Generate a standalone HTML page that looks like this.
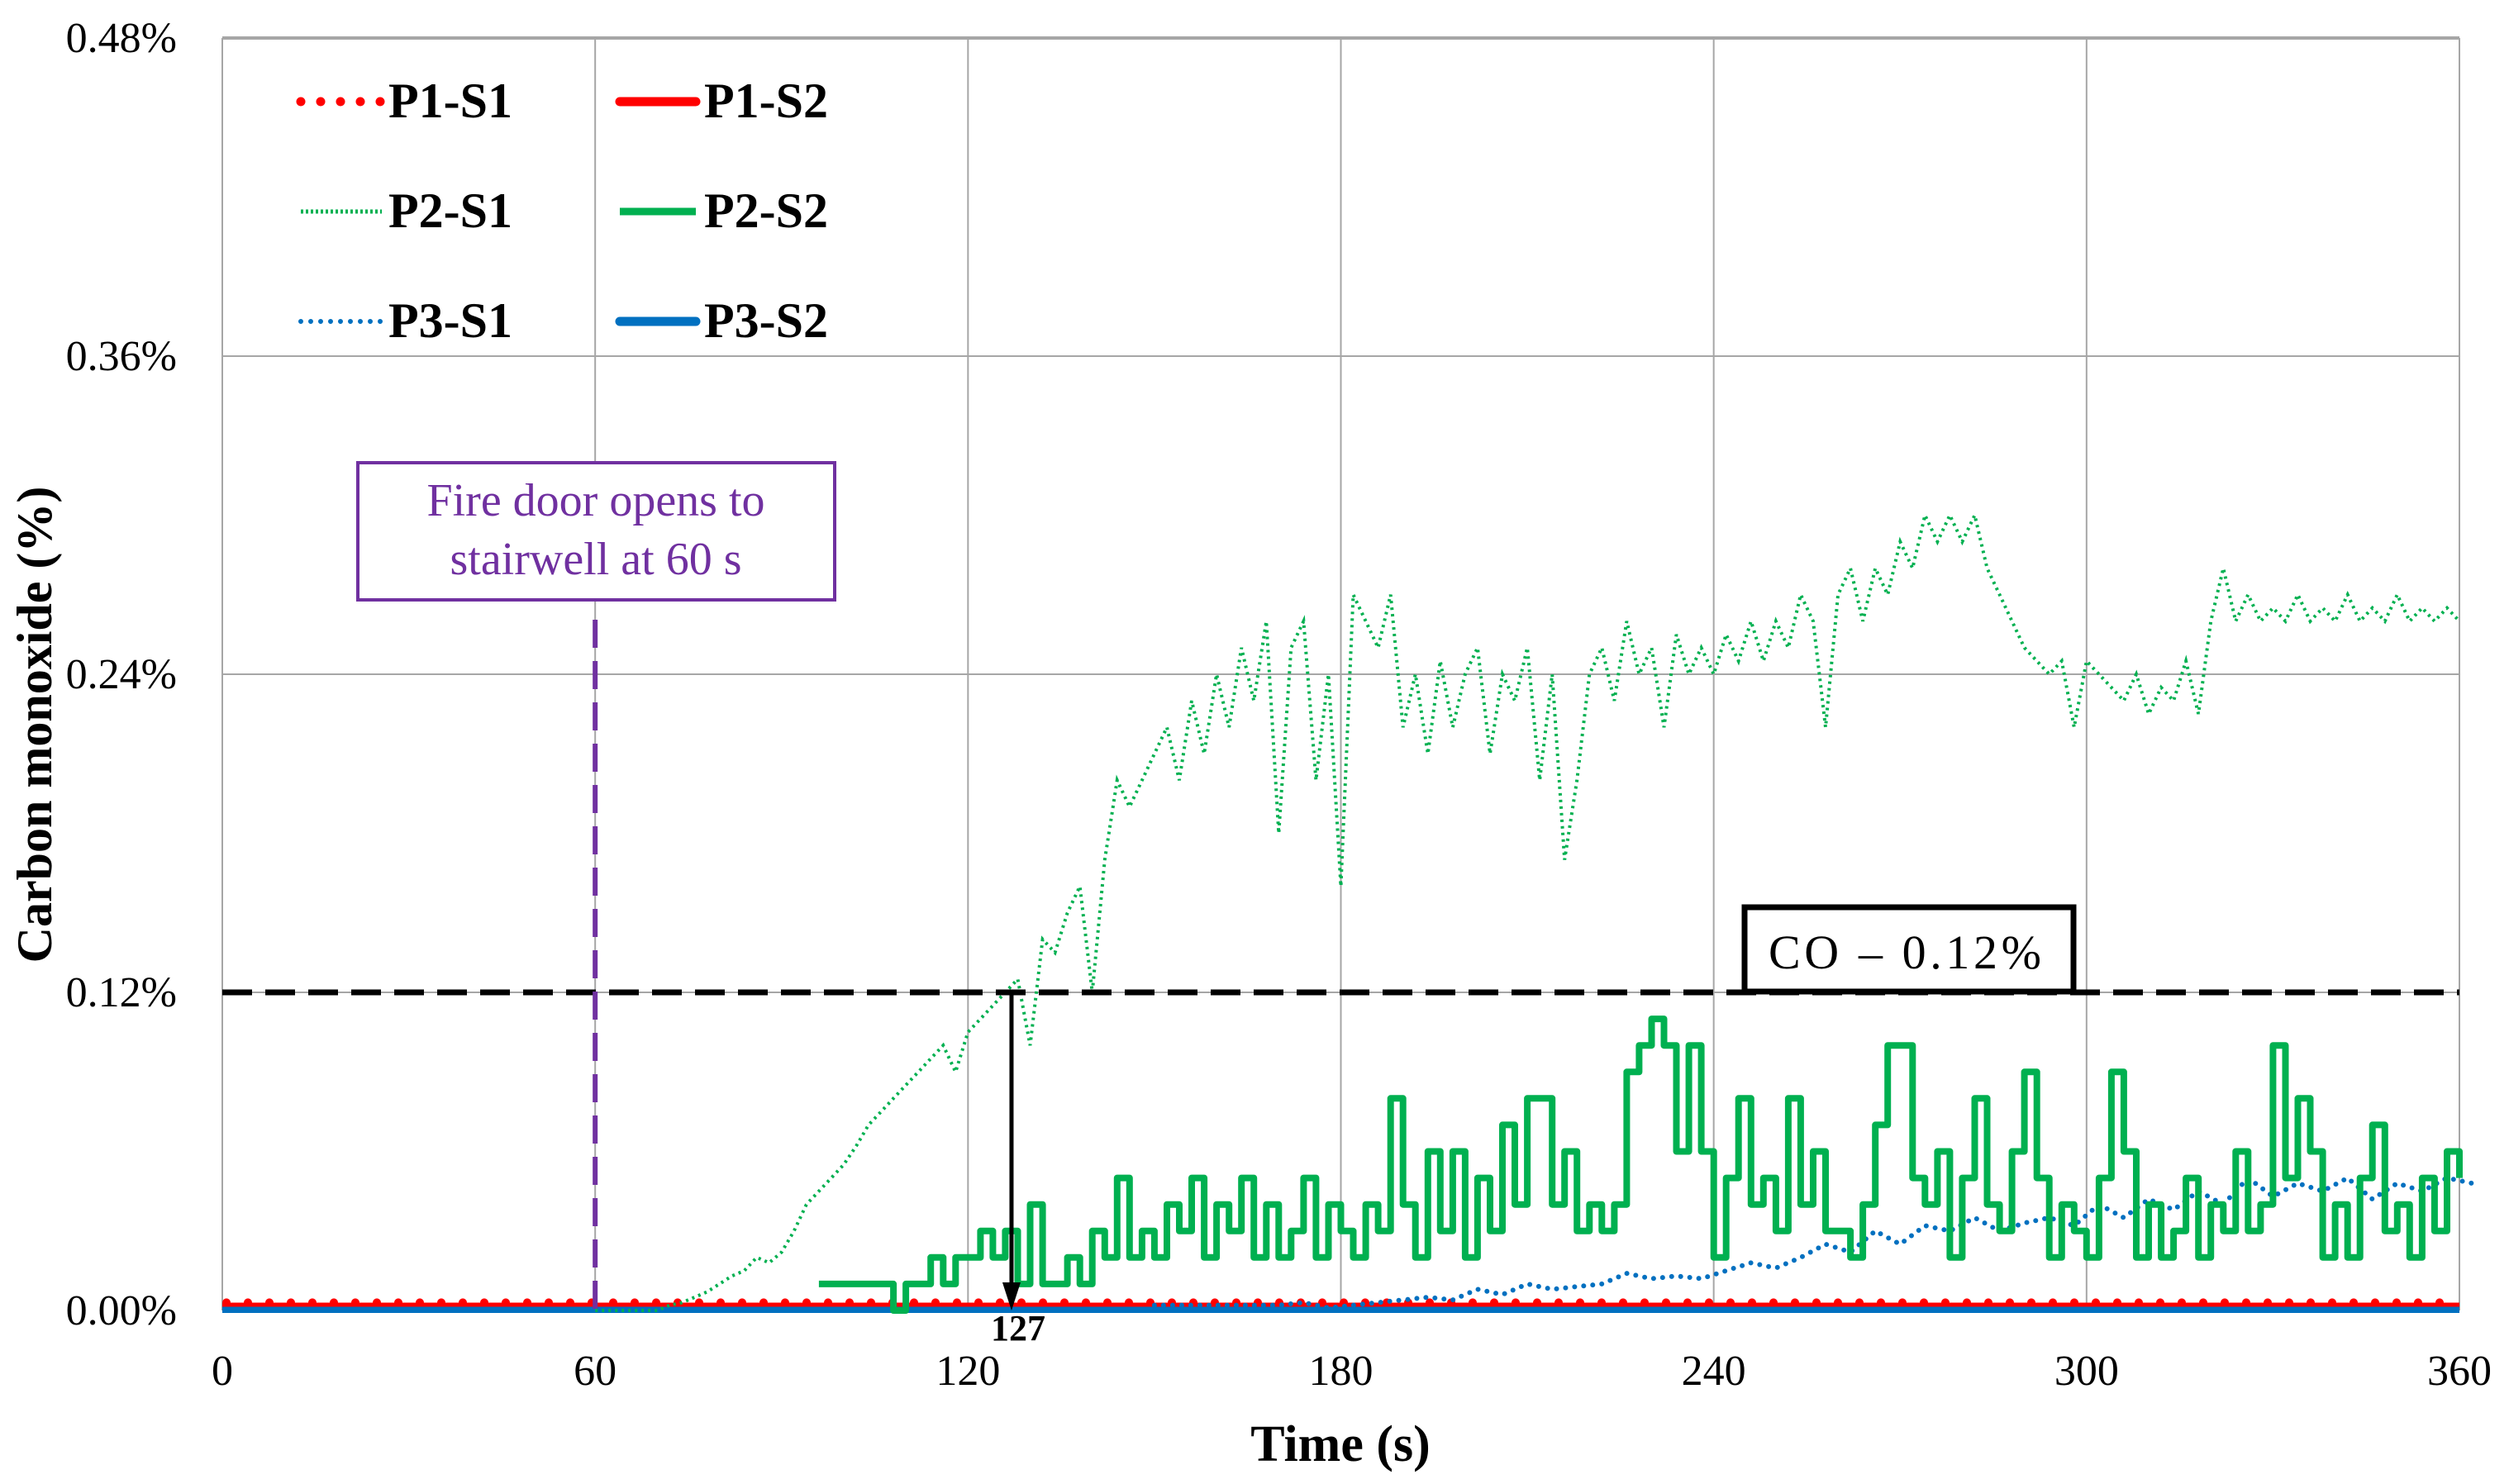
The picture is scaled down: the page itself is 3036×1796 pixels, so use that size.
<!DOCTYPE html>
<html><head><meta charset="utf-8"><style>
body{margin:0;background:#fff}
svg{display:block}
text{font-family:"Liberation Serif",serif}
</style></head><body>
<svg id="chart" width="3036" height="1796" viewBox="0 0 3036 1796" xmlns="http://www.w3.org/2000/svg">
<g id="grid"></g>
<g id="series"></g>
<g id="ann"></g>
<g id="axes"></g>
<text x="0" y="0" transform="translate(62,877) rotate(-90)" text-anchor="middle" font-size="60" font-weight="bold">Carbon monoxide (%)</text>
<text x="1622" y="1768" text-anchor="middle" font-size="62" font-weight="bold">Time (s)</text>
<g>
<g><line x1="364" y1="123" x2="462" y2="123" stroke="#ff0000" stroke-width="11" stroke-linecap="round" stroke-dasharray="0 24"/><text x="470" y="142" font-size="60" font-weight="bold" textLength="150">P1-S1</text></g>
<g><line x1="750" y1="123" x2="842" y2="123" stroke="#ff0000" stroke-width="11" stroke-linecap="round"/><text x="852" y="142" font-size="60" font-weight="bold" textLength="150">P1-S2</text></g>
<g><line x1="364" y1="256" x2="462" y2="256" stroke="#00b050" stroke-width="5" stroke-dasharray="3 3"/><text x="470" y="275" font-size="60" font-weight="bold" textLength="150">P2-S1</text></g>
<g><line x1="750" y1="256" x2="842" y2="256" stroke="#00b050" stroke-width="9"/><text x="852" y="275" font-size="60" font-weight="bold" textLength="150">P2-S2</text></g>
<g><line x1="364" y1="389" x2="462" y2="389" stroke="#0070c0" stroke-width="6" stroke-linecap="round" stroke-dasharray="0 12"/><text x="470" y="408" font-size="60" font-weight="bold" textLength="150">P3-S1</text></g>
<g><line x1="750" y1="389" x2="842" y2="389" stroke="#0070c0" stroke-width="11" stroke-linecap="round"/><text x="852" y="408" font-size="60" font-weight="bold" textLength="150">P3-S2</text></g>
</g>
</svg>
<script>
const xTicks=[0,60,120,180,240,300,360];
const yTicks=[0,0.12,0.24,0.36,0.48];
const yTickLabels=["0.00%","0.12%","0.24%","0.36%","0.48%"];
const p2s1Start=60, p2s1Step=2;
const p2s1=[0,0,0,0,0,0,0.002,0.003,0.005,0.007,0.01,0.013,0.015,0.02,0.018,0.022,0.03,0.04,0.045,0.05,0.055,0.062,0.07,0.075,0.08,0.085,0.09,0.095,0.1,0.09,0.105,0.11,0.115,0.12,0.125,0.1,0.14,0.135,0.15,0.16,0.12,0.17,0.2,0.19,0.2,0.21,0.22,0.2,0.23,0.21,0.24,0.22,0.25,0.23,0.26,0.18,0.25,0.26,0.2,0.24,0.16,0.27,0.26,0.25,0.27,0.22,0.24,0.21,0.245,0.22,0.24,0.25,0.21,0.24,0.23,0.25,0.2,0.24,0.17,0.2,0.24,0.25,0.23,0.26,0.24,0.25,0.22,0.255,0.24,0.25,0.24,0.255,0.245,0.26,0.245,0.26,0.25,0.27,0.26,0.22,0.27,0.28,0.26,0.28,0.27,0.29,0.28,0.3,0.29,0.3,0.29,0.3,0.28,0.27,0.26,0.25,0.245,0.24,0.245,0.22,0.245,0.24,0.235,0.23,0.24,0.225,0.235,0.23,0.245,0.225,0.26,0.28,0.26,0.27,0.26,0.265,0.26,0.27,0.26,0.265,0.26,0.27,0.26,0.265,0.26,0.27,0.26,0.265,0.26,0.265,0.26];
const p2s2Start=96, p2s2Step=2;
const p2s2=[0.01,0.01,0.01,0.01,0.01,0.01,0,0.01,0.01,0.02,0.01,0.02,0.02,0.03,0.02,0.03,0.01,0.04,0.01,0.01,0.02,0.01,0.03,0.02,0.05,0.02,0.03,0.02,0.04,0.03,0.05,0.02,0.04,0.03,0.05,0.02,0.04,0.02,0.03,0.05,0.02,0.04,0.03,0.02,0.04,0.03,0.08,0.04,0.02,0.06,0.03,0.06,0.02,0.05,0.03,0.07,0.04,0.08,0.08,0.04,0.06,0.03,0.04,0.03,0.04,0.09,0.1,0.11,0.1,0.06,0.1,0.06,0.02,0.05,0.08,0.04,0.05,0.03,0.08,0.04,0.06,0.03,0.03,0.02,0.04,0.07,0.1,0.1,0.05,0.04,0.06,0.02,0.05,0.08,0.04,0.03,0.06,0.09,0.05,0.02,0.04,0.03,0.02,0.05,0.09,0.06,0.02,0.04,0.02,0.03,0.05,0.02,0.04,0.03,0.06,0.03,0.04,0.1,0.05,0.08,0.06,0.02,0.04,0.02,0.05,0.07,0.03,0.04,0.02,0.05,0.03,0.06,0.05];
const p3s1Start=150, p3s1Step=4;
const p3s1=[0.002,0.002,0.002,0.002,0.002,0.002,0.003,0.001,0.002,0.003,0.004,0.005,0.004,0.008,0.006,0.01,0.008,0.009,0.01,0.014,0.012,0.013,0.012,0.015,0.018,0.016,0.02,0.025,0.022,0.03,0.025,0.032,0.03,0.035,0.03,0.033,0.035,0.032,0.04,0.035,0.042,0.038,0.045,0.04,0.05,0.043,0.048,0.045,0.05,0.042,0.048,0.045,0.05,0.048];
const p1s1Value=0.003, p3s2Value=0, p1s2Value=0;
const threshold=0.12, doorTime=60, crossTime=127;

const X0=269,X1=2976,Y0=1586,Y1=46;
const sx=t=>X0+(t/360)*(X1-X0);
const sy=v=>Y0-(v/0.48)*(Y0-Y1);
const NS="http://www.w3.org/2000/svg";
function mk(tag,parent,attrs){const e=document.createElementNS(NS,tag);for(const k in attrs)e.setAttribute(k,attrs[k]);parent.appendChild(e);return e;}
const grid=document.getElementById('grid'),axes=document.getElementById('axes'),ser=document.getElementById('series'),ann=document.getElementById('ann');
xTicks.forEach(t=>{
  const l=mk('line',grid,{x1:sx(t),x2:sx(t),y1:Y1,y2:Y0,stroke:'#a6a6a6','stroke-width':2});
  
  
  const tx=mk('text',axes,{x:sx(t),y:1676,'text-anchor':'middle','font-size':52});
  tx.textContent=t;
  
  
});
yTicks.forEach((v,i)=>{
  const l=mk('line',grid,{x1:X0,x2:X1,y1:sy(v),y2:sy(v),stroke:'#a6a6a6','stroke-width':(i==yTicks.length-1?4:2)});
  
  
  const tx=mk('text',axes,{x:214,y:sy(v)+17,'text-anchor':'end','font-size':52});
  tx.textContent=yTickLabels[i];
  
  
});
function pts(arr,start,step){return arr.map((v,i)=>sx(start+i*step).toFixed(1)+','+sy(v).toFixed(1)).join(' ');}
function stepPts(arr,start,step){let p=[];arr.forEach((v,i)=>{const x=sx(start+i*step),y=sy(v);p.push(x.toFixed(1)+','+y.toFixed(1));if(i<arr.length-1)p.push(sx(start+(i+1)*step).toFixed(1)+','+y.toFixed(1));});return p.join(' ');}
// P3-S2 and P1-S2
let e=mk('line',ser,{x1:X0,x2:X1,y1:sy(p3s2Value)-1,y2:sy(p3s2Value)-1,stroke:'#0070c0','stroke-width':8});


e=mk('line',ser,{x1:X0,x2:X1,y1:sy(p1s2Value)-7,y2:sy(p1s2Value)-7,stroke:'#ff0000','stroke-width':5});


e=mk('line',ser,{x1:X0+5,x2:X1,y1:sy(p1s1Value),y2:sy(p1s1Value),stroke:'#ff0000','stroke-width':10,'stroke-linecap':'round','stroke-dasharray':'0 26'});


e=mk('polyline',ser,{points:pts(p3s1,p3s1Start,p3s1Step),fill:'none',stroke:'#0070c0','stroke-width':6,'stroke-linecap':'round','stroke-dasharray':'0 11'});


e=mk('polyline',ser,{points:stepPts(p2s2,p2s2Start,p2s2Step),fill:'none',stroke:'#00b050','stroke-width':8,'stroke-linejoin':'round'});


e=mk('polyline',ser,{points:pts(p2s1,p2s1Start,p2s1Step),fill:'none',stroke:'#00b050','stroke-width':4,'stroke-dasharray':'3 5'});


// annotations
e=mk('line',ann,{x1:X0,x2:X1,y1:sy(threshold),y2:sy(threshold),stroke:'#000','stroke-width':7,'stroke-dasharray':'36 16'});


e=mk('line',ann,{x1:sx(doorTime),x2:sx(doorTime),y1:750,y2:Y0,stroke:'#7030a0','stroke-width':6,'stroke-dasharray':'34 16'});


e=mk('rect',ann,{x:433,y:560,width:577,height:166,fill:'#fff',stroke:'#7030a0','stroke-width':4});


e=mk('text',ann,{x:721,y:624,'text-anchor':'middle','font-size':56,fill:'#7030a0'});e.textContent='Fire door opens to';


e=mk('text',ann,{x:721,y:695,'text-anchor':'middle','font-size':56,fill:'#7030a0'});e.textContent='stairwell at 60 s';


e=mk('rect',ann,{x:2111,y:1098,width:398,height:102,fill:'#fff',stroke:'#000','stroke-width':7});


e=mk('text',ann,{x:2140,y:1172,'font-size':58,textLength:330});e.textContent='CO – 0.12%';


e=mk('line',ann,{x1:sx(crossTime),x2:sx(crossTime),y1:sy(threshold),y2:Y0-30,stroke:'#000','stroke-width':5});


e=mk('polygon',ann,{points:`${sx(crossTime)-11},${Y0-34} ${sx(crossTime)+11},${Y0-34} ${sx(crossTime)},${Y0}`,fill:'#000'});


e=mk('text',ann,{x:sx(crossTime)+8,y:1622,'text-anchor':'middle','font-size':44,'font-weight':'bold'});e.textContent=crossTime;


</script>
</body></html>
